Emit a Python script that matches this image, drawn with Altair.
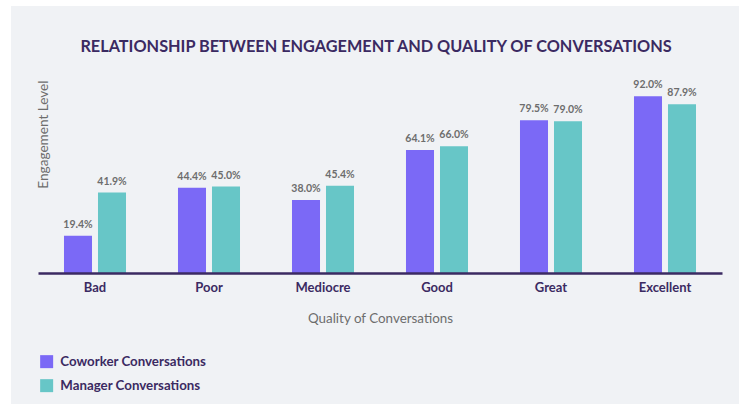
import altair as alt
import pandas as pd

title_text = "RELATIONSHIP BETWEEN ENGAGEMENT AND QUALITY OF CONVERSATIONS"
categories = ["Bad", "Poor", "Mediocre", "Good", "Great", "Excellent"]
coworker = [19.4, 44.4, 38.0, 64.1, 79.5, 92.0]
manager = [41.9, 45.0, 45.4, 66.0, 79.0, 87.9]
series = ["Coworker Conversations", "Manager Conversations"]
colors = ["#7b69f6", "#67c6c7"]

rows = []
for c, a, b in zip(categories, coworker, manager):
    rows.append({"quality": c, "series": series[0], "value": a, "label": f"{a:.1f}%"})
    rows.append({"quality": c, "series": series[1], "value": b, "label": f"{b:.1f}%"})
df = pd.DataFrame(rows)

FONT = "Lato"
DARK = "#3b2a62"
GRAY = "#6d6d6d"

W, H = 684, 192

x_enc = alt.X(
    "quality:N",
    sort=categories,
    scale=alt.Scale(paddingInner=0.456, paddingOuter=0.228),
    axis=alt.Axis(
        title="Quality of Conversations",
        labelAngle=0,
        labelFont=FONT,
        labelFontSize=13,
        labelFontWeight="bold",
        labelColor=DARK,
        labelPadding=8,
        ticks=False,
        domainColor=DARK,
        domainWidth=2.5,
        titleFont=FONT,
        titleFontSize=13.4,
        titleFontWeight="normal",
        titleColor=GRAY,
        titlePadding=17,
        zindex=2,
    ),
)
xoff = alt.XOffset(
    "series:N", sort=series, scale=alt.Scale(paddingInner=0.176, paddingOuter=0)
)
y_enc = alt.Y(
    "value:Q",
    scale=alt.Scale(domain=[0, 100]),
    axis=alt.Axis(
        title="Engagement Level",
        labels=False,
        ticks=False,
        domain=False,
        grid=False,
        titleFont=FONT,
        titleFontSize=13.6,
        titleFontWeight="normal",
        titleColor=GRAY,
        titleAngle=270,
        titleAlign="right",
        titleBaseline="alphabetic",
        titleX=9,
        titleY=-1,
        zindex=2,
    ),
)

base = alt.Chart(df)

bars = base.mark_bar().encode(
    x=x_enc,
    xOffset=xoff,
    y=y_enc,
    color=alt.Color(
        "series:N",
        sort=series,
        scale=alt.Scale(domain=series, range=colors),
        legend=alt.Legend(
            title=None,
            orient="none",
            legendX=2,
            legendY=274,
            direction="vertical",
            symbolType="square",
            symbolSize=169,
            symbolStrokeWidth=0,
            symbolOpacity=1,
            labelFont=FONT,
            labelFontSize=13.3,
            labelFontWeight="bold",
            labelColor=DARK,
            labelOffset=7,
            rowPadding=9,
            padding=0,
        ),
    ),
)

labels = base.mark_text(
    font=FONT, fontSize=10.5, fontWeight="bold", color=GRAY, baseline="alphabetic", dy=-8
).encode(
    x=alt.X("quality:N", sort=categories),
    xOffset=xoff,
    y=alt.Y("value:Q"),
    text="label:N",
)

one = pd.DataFrame({"t": [title_text]})

panel = alt.Chart(one).mark_rect(color="#f0f2f5").encode(
    x=alt.value(-27), x2=alt.value(701), y=alt.value(-75), y2=alt.value(323)
)

title = alt.Chart(one).mark_text(
    font=FONT, fontSize=16.3, fontWeight="bold", color=DARK, align="center", baseline="alphabetic"
).encode(x=alt.value(W / 2 - 4), y=alt.value(-29), text="t:N")

chart = (
    alt.layer(panel, bars, labels, title)
    .properties(
        width=W,
        height=H,
        padding={"left": 38, "top": 81, "right": 19, "bottom": 135},
        autosize=alt.AutoSizeParams(type="none"),
        background="white",
    )
    .configure_view(stroke=None)
)

chart.save("out.html", embed_options={"renderer": "svg", "actions": False})
